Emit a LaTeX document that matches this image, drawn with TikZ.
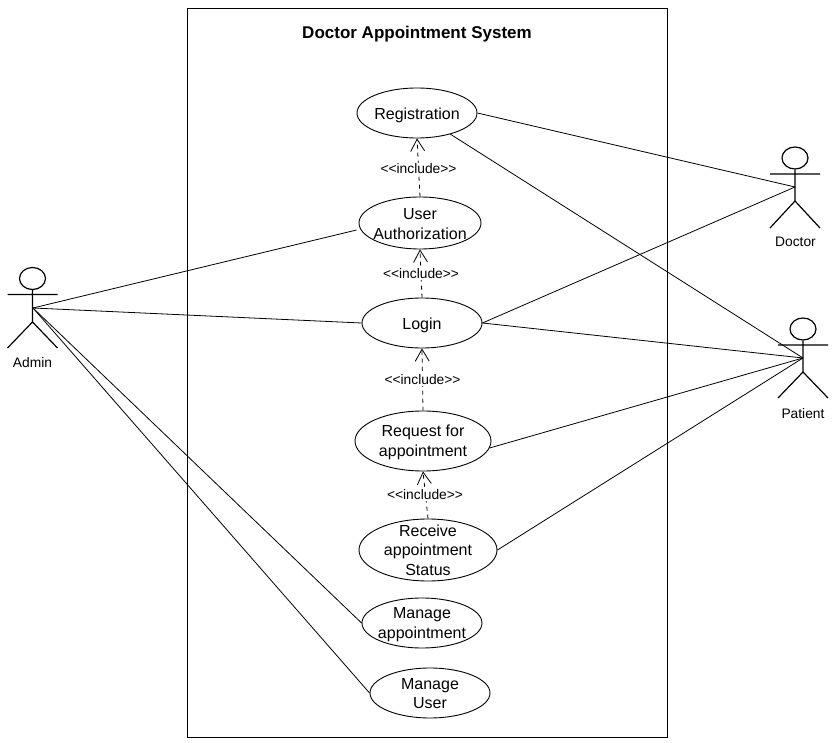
\documentclass[tikz,border=0pt]{standalone}
\usepackage{fontspec}
\setmainfont{Liberation Sans}
\usetikzlibrary{shapes.geometric,arrows.meta}
\newcommand{\incl}{<\kern0pt<include>\kern0pt>}
\tikzset{
  uc/.style args={#1/#2}{draw,ellipse,inner sep=0pt,line width=0.9pt,minimum width=#1,minimum height=#2},
  uct/.style 2 args={label={[align=center,font=\fontsize{16}{19.5}\selectfont,inner sep=0pt,yshift=#1]center:#2}},
  lnk/.style={line width=0.8pt},
  inc/.style={line width=0.8pt,dash pattern=on 4pt off 4pt,-{Straight Barb[length=12pt,width=14pt,line width=0.8pt]}},
  lab/.style={font=\fontsize{13.8}{16}\selectfont,fill=white,inner sep=1pt},
  actorlab/.style={font=\fontsize{13.8}{16}\selectfont,inner sep=0pt},
  part/.style={line width=1.2pt},
  headc/.style={draw,ellipse,line width=1.2pt,minimum width=26pt,minimum height=22pt,inner sep=0pt}
}
\begin{document}
\begin{tikzpicture}[x=1pt,y=-1pt]
\useasboundingbox (0,0) rectangle (839,743);
\fill[white] (0,0) rectangle (839,743);
\node[draw,line width=0.8pt,minimum width=480pt,minimum height=729pt,inner sep=0pt] (sys) at (427,373) {};
\node[font=\bfseries\fontsize{17}{20}\selectfont] (title) at (417,34) {Doctor Appointment System};
\node[uc=120pt/50pt,uct={-2pt}{Registration}] (reg) at (417,113) {};
\node[uc=122pt/52pt,uct={-1pt}{User\\Authorization}] (auth) at (420,223) {};
\node[uc=120pt/50pt,uct={-2pt}{Login}] (login) at (422,323) {};
\node[uc=136pt/60pt,uct={-1.5pt}{Request for\\appointment}] (req) at (423,441) {};
\node[uc=138pt/62pt,uct={0pt}{Receive\\appointment\\Status}] (recv) at (428,550) {};
\node[uc=120pt/50pt,uct={-1.5pt}{Manage\\appointment}] (mapp) at (422,623) {};
\node[uc=120pt/50pt,uct={-0.5pt}{Manage\\User}] (muser) at (430,693) {};
% actors
\node[headc] (ah) at (32.5,278.5) {};
\coordinate (ac) at (33,308);
\coordinate (ahip) at (32.5,322);
\draw[part] (ah.south) -- (ahip) -- (7.5,348) (ahip) -- (57.5,348) (7.5,294.5) -- (57.5,294.5);
\node[actorlab] (al) at (32.5,363) {Admin};
\node[headc] (dh) at (795,158) {};
\coordinate (dc) at (795,187);
\coordinate (dhip) at (795,201);
\draw[part] (dh.south) -- (dhip) -- (770,228) (dhip) -- (820,228) (770,174) -- (820,174);
\node[actorlab] (dl) at (795.5,242) {Doctor};
\node[headc] (ph) at (803,329) {};
\coordinate (pc) at (803,358);
\coordinate (phip) at (803,372);
\draw[part] (ph.south) -- (phip) -- (778,398) (phip) -- (828,398) (778,345) -- (828,345);
\node[actorlab] (pl) at (803,414) {Patient};
% associations
\draw[lnk] (ac) -- ([xshift=-2pt,yshift=-7pt]auth.west);
\draw[lnk] (ac) -- (login.west);
\draw[lnk] (ac) -- (mapp.west);
\draw[lnk] (ac) -- (muser.west);
\draw[lnk] (reg.east) -- (dc);
\draw[lnk] (login.east) -- (dc);
\draw[lnk] (reg) -- (pc);
\draw[lnk] (login.east) -- (pc);
\draw[lnk] (req.-6) -- (pc);
\draw[lnk] (recv.east) -- (pc);
% includes
\draw[inc] (auth.north) -- (reg.south);
\draw[inc] (login.north) -- (auth.south);
\draw[inc] (req.north) -- (login.south);
\draw[inc] (recv.north) -- (req.south);
\node[lab] (i1) at (418.5,169) {\incl};
\node[lab] (i2) at (421,274) {\incl};
\node[lab] (i3) at (422.5,380) {\incl};
\node[lab] (i4) at (425,495) {\incl};
\end{tikzpicture}
\end{document}
